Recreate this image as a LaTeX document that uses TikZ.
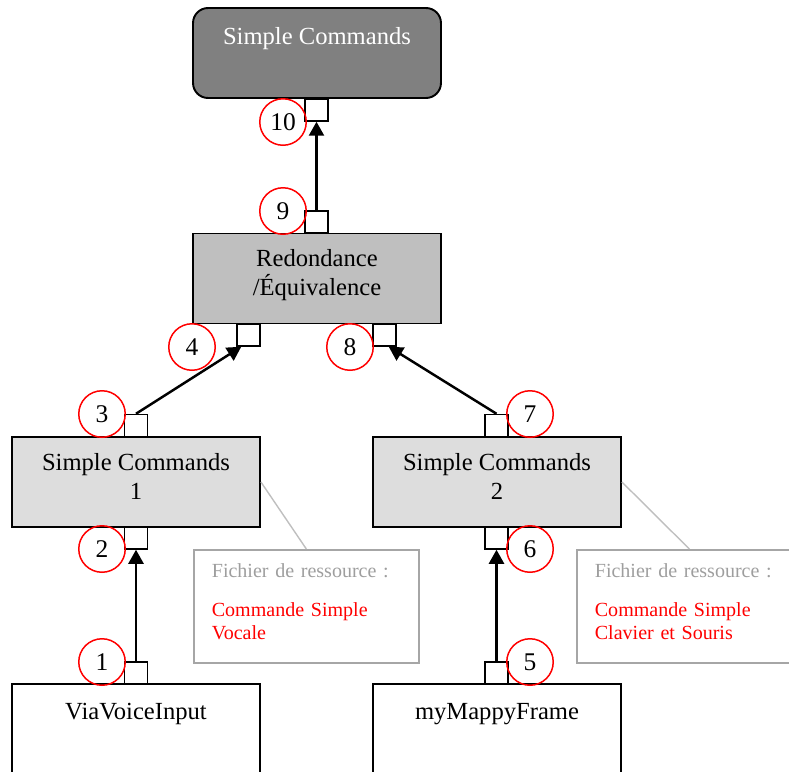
\documentclass[tikz,border=0pt]{standalone}
\usepackage{fontspec}
\setmainfont{Liberation Serif}
\usetikzlibrary{arrows.meta}

\definecolor{boxdark}{gray}{0.5}
\definecolor{boxmid}{gray}{0.75}
\definecolor{boxlight}{gray}{0.867}
\definecolor{noteline}{gray}{0.65}
\definecolor{notetext}{gray}{0.62}

% extra depth below the last text line
\newcommand{\lowpad}[1]{\rule[-#1]{0pt}{#1}}

\tikzset{
  comp/.style={draw, line width=1.1pt, minimum width=4.96cm, minimum height=1.8cm,
    align=center, inner sep=0pt, font=\fontsize{14}{16.5}\selectfont},
  port/.style={draw, fill=white, line width=0.85pt, minimum width=0.46cm,
    minimum height=0.44cm, inner sep=0pt},
  num/.style={circle, draw=red, line width=0.85pt, minimum size=0.93cm,
    inner sep=0pt, font=\fontsize{14.5}{16.5}\selectfont},
  link/.style={line width=1.4pt, -{Triangle[length=0.28cm,width=0.3cm]}},
  note/.style={draw=noteline, line width=1pt, anchor=north west, minimum width=4.5cm,
    minimum height=2.26cm, text width=3.78cm, align=left, inner xsep=0.36cm,
    font=\fontsize{11.4}{13.1}\selectfont},
  notelink/.style={draw=boxmid, line width=0.8pt}
}

\begin{document}
\begin{tikzpicture}[x=0.02cm, y=-0.02cm]
\clip (0,0) rectangle (789,772);

% Components.
\node[comp, fill=boxdark, rounded corners=0.3cm, text=white] (top) at (317,53)
  {Simple Commands\\\lowpad{2.9pt}};
\node[comp, fill=boxmid] (red) at (317,278.5) {Redondance\\/Équivalence\lowpad{7.4pt}};
\node[comp, fill=boxlight] (sc1) at (136,482) {Simple Commands\\1\lowpad{6.3pt}};
\node[comp, fill=boxlight] (sc2) at (497,482) {Simple Commands\\2\lowpad{6.3pt}};
\node[comp, fill=white] (via) at (136,729) {ViaVoiceInput\\\lowpad{4pt}};
\node[comp, fill=white] (mappy) at (497,729) {myMappyFrame\\\lowpad{4pt}};

% Notes.
\node[note] (n1) at (193,549)
  {\textcolor{notetext}{Fichier de ressource :}\\[9.1pt]
   \textcolor{red}{Commande Simple\\Vocale}\lowpad{5pt}};
\node[note] (n2) at (576,549)
  {\textcolor{notetext}{Fichier de ressource :}\\[9.1pt]
   \textcolor{red}{Commande Simple\\Clavier et Souris}\lowpad{5pt}};
\draw[notelink] (sc1.east) -- (n1.north);
\draw[notelink] (sc2.east) -- (n2.north);

% Ports.
\node[port] (p1) at (136,673) {};
\node[port] (p2) at (136,538) {};
\node[port] (p3) at (136,425.5) {};
\node[port] (p4) at (248.5,335) {};
\node[port] (p5) at (496.5,673) {};
\node[port] (p6) at (496.5,538) {};
\node[port] (p7) at (496.5,425.5) {};
\node[port] (p8) at (384.5,335) {};
\node[port] (p9) at (316.5,222) {};
\node[port] (p10) at (316.5,110) {};

% Numbers.
\node[num] (c1) at (102,662) {1};
\node[num] (c2) at (102,549) {2};
\node[num] (c3) at (102,414) {3};
\node[num] (c4) at (192,347) {4};
\node[num] (c5) at (530,662) {5};
\node[num] (c6) at (530,549) {6};
\node[num] (c7) at (530,414) {7};
\node[num] (c8) at (350,347) {8};
\node[num] (c9) at (283,211) {9};
\node[num] (c10) at (283,122) {10};

% Links.
\draw[link] (p1) -- (p2);
\draw[link] (p5) -- (p6);
\draw[link] (p3.north) -- ([xshift=0.1cm]p4.south west);
\draw[link] (p7.north) -- ([xshift=-0.16cm]p8.south east);
\draw[link] (p9) -- (p10);
\end{tikzpicture}
\end{document}
